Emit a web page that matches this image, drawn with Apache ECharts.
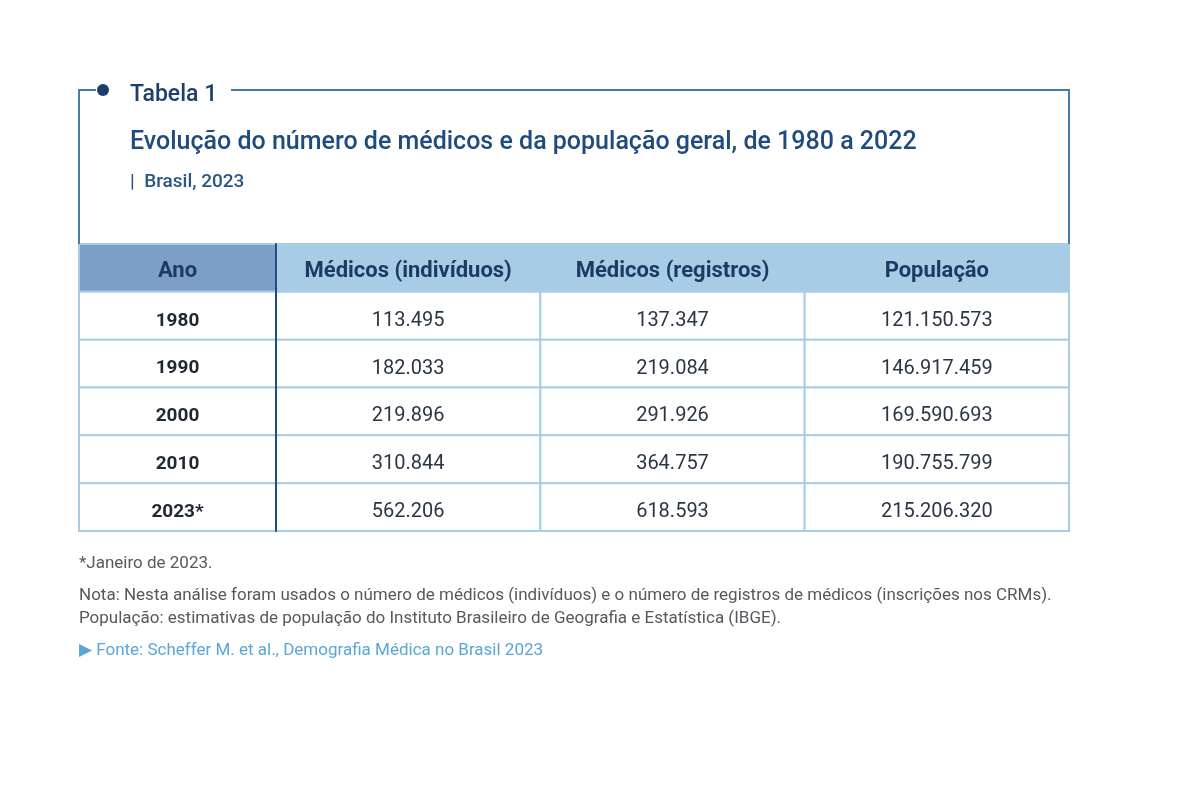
<!DOCTYPE html>
<html>
<head>
<meta charset="utf-8">
<script src="https://cdn.jsdelivr.net/npm/echarts@6/dist/echarts.min.js"></script>
<style>html,body{margin:0;padding:0;background:#fff}#c{width:1200px;height:800px}</style>
</head>
<body>
<div id="c"></div>
<script>
// ---- data ----
const columnHeaders = ['Ano', 'Médicos (indivíduos)', 'Médicos (registros)', 'População'];
const years = ['1980', '1990', '2000', '2010', '2023*'];
const medicosIndividuos = [113495, 182033, 219896, 310844, 562206];
const medicosRegistros = [137347, 219084, 291926, 364757, 618593];
const populacao = [121150573, 146917459, 169590693, 190755799, 215206320];

const tableLabel = 'Tabela 1';
const titleText = 'Evolução do número de médicos e da população geral, de 1980 a 2022';
const subtitleText = 'Brasil, 2023';
const footJaneiro = '*Janeiro de 2023.';
const footNota = 'Nota: Nesta análise foram usados o número de médicos (indivíduos) e o número de registros de médicos (inscrições nos CRMs).';
const footPop = 'População: estimativas de população do Instituto Brasileiro de Geografia e Estatística (IBGE).';
const footFonte = 'Fonte: Scheffer M. et al., Demografia Médica no Brasil 2023';

// ---- helpers ----
const fmt = n => String(n).replace(/\B(?=(\d{3})+(?!\d))/g, '.');
const rowKeys = ['header'].concat(years);
const FONT = 'Roboto, "Noto Sans", sans-serif';
const BORDER = '#a9cde6';

const anoData = [[0, 0, columnHeaders[0], 'hdrDark']];
years.forEach((y, i) => anoData.push([0, i + 1, y, 'year']));

const numData = [];
[1, 2, 3].forEach((c, ci) => numData.push([ci, 0, columnHeaders[c], 'hdr']));
[medicosIndividuos, medicosRegistros, populacao].forEach((arr, ci) => {
  arr.forEach((v, ri) => numData.push([ci, ri + 1, fmt(v), 'num']));
});

function renderCell(params, api) {
  const x = api.value(0), y = api.value(1);
  const d = params.dataIndex;
  const item = params.seriesIndex === 0 ? anoData[d] : numData[d];
  const c = api.coord([x, y]);
  const s = api.size([1, 1]);
  const k = item[3];
  let fill = '#ffffff', color = '#2b3645', font = 'normal 20px ' + FONT, dy = 5;
  if (k === 'hdrDark') { fill = '#7d9fc7'; color = '#1d3a63'; font = 'bold 22px ' + FONT; dy = 4; }
  else if (k === 'hdr') { fill = '#a8cce5'; color = '#1d3a63'; font = 'bold 22px ' + FONT; dy = 4; }
  else if (k === 'year') { color = '#1f2733'; font = 'bold 19px ' + FONT; }
  return {
    type: 'group',
    children: [
      { type: 'rect', shape: { x: c[0] - s[0] / 2, y: c[1] - s[1] / 2, width: s[0], height: s[1] },
        style: { fill: fill, stroke: BORDER, lineWidth: 2 } },
      { type: 'text', style: { x: c[0], y: c[1] + dy, text: item[2], align: 'center', verticalAlign: 'middle',
        fill: color, font: font } }
    ]
  };
}

const chart = echarts.init(document.getElementById('c'), null, { renderer: 'canvas' });
const frameColor = '#467ca9';
const footStyle = { fontFamily: FONT, fontSize: 17, fontWeight: 'normal', color: '#55595e' };
chart.setOption({
  backgroundColor: '#ffffff',
  animation: false,
  title: [
    { text: tableLabel, left: 125, top: 79, textStyle: { fontFamily: FONT, fontSize: 23, fontWeight: 500, color: '#1d3f6b' } },
    { text: titleText, left: 125, top: 125, textStyle: { fontFamily: FONT, fontSize: 25, fontWeight: 500, color: '#1f4c7d' } },
    { text: '|  ' + subtitleText, left: 125, top: 168, textStyle: { fontFamily: FONT, fontSize: 19, fontWeight: 500, color: '#2a5685' } },
    { text: footJaneiro, left: 74, top: 550, textStyle: footStyle },
    { text: footNota, left: 74, top: 582, textStyle: footStyle },
    { text: footPop, left: 74, top: 605, textStyle: footStyle },
    { text: '▶ ' + footFonte, left: 74, top: 637, textStyle: Object.assign({}, footStyle, { color: '#5aa7d6' }) }
  ],
  grid: [
    { left: 79, top: 244, width: 197, height: 287 },
    { left: 276, top: 244, width: 793, height: 287 }
  ],
  xAxis: [
    { type: 'category', gridIndex: 0, data: ['Ano'], show: false },
    { type: 'category', gridIndex: 1, data: columnHeaders.slice(1), show: false }
  ],
  yAxis: [
    { type: 'category', gridIndex: 0, data: rowKeys, inverse: true, show: false },
    { type: 'category', gridIndex: 1, data: rowKeys, inverse: true, z: 10,
      axisLine: { show: true, lineStyle: { color: '#1f4f80', width: 2 } },
      axisTick: { show: false }, axisLabel: { show: false }, splitLine: { show: false } }
  ],
  series: [
    { type: 'custom', xAxisIndex: 0, yAxisIndex: 0, data: anoData, renderItem: renderCell, silent: true },
    { type: 'custom', xAxisIndex: 1, yAxisIndex: 1, data: numData, renderItem: renderCell, silent: true }
  ],
  graphic: [
    { type: 'polyline', shape: { points: [[79, 244], [79, 90], [96, 90]] }, style: { stroke: frameColor, lineWidth: 2, fill: null }, z: 20 },
    { type: 'circle', shape: { cx: 103, cy: 90, r: 6 }, style: { fill: '#1b3e6c' }, z: 21 },
    { type: 'polyline', shape: { points: [[231, 90], [1069, 90], [1069, 244]] }, style: { stroke: frameColor, lineWidth: 2, fill: null }, z: 20 }
  ]
});
</script>
</body>
</html>
